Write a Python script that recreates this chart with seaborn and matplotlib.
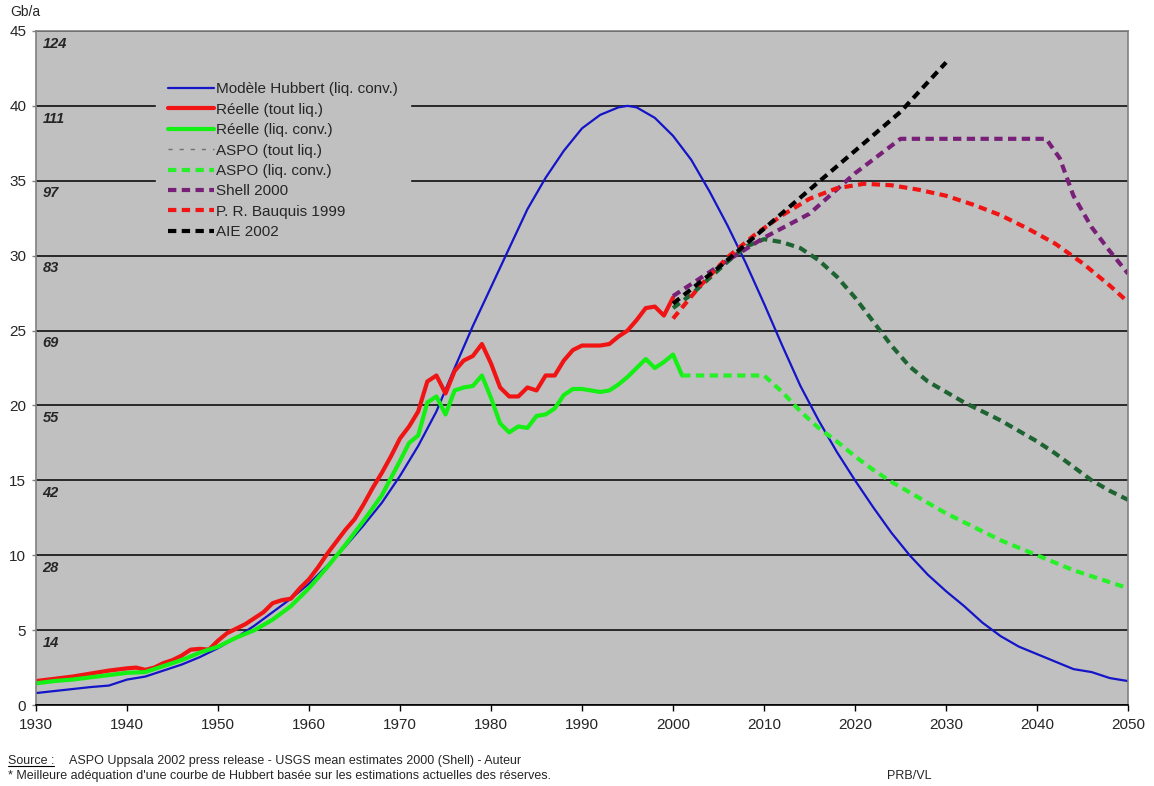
import numpy as np
import pandas as pd
import seaborn as sns
import matplotlib.pyplot as plt
from matplotlib.lines import Line2D

# production mondiale de pétrole, Gb/a
hub_years = [1930, 1933, 1936, 1938, 1940, 1942, 1944, 1946, 1948, 1950, 1952, 1954, 1956, 1958,
             1960, 1962, 1964, 1966, 1968, 1970, 1972, 1974, 1976, 1978, 1980, 1982, 1984, 1986,
             1988, 1990, 1992, 1994, 1995, 1996, 1998, 2000, 2002, 2004, 2006, 2008, 2010, 2012,
             2014, 2016, 2018, 2020, 2022, 2024, 2026, 2028, 2030, 2032, 2034, 2036, 2038, 2040,
             2042, 2044, 2046, 2048, 2050]
hub_vals = [0.8, 1.0, 1.2, 1.3, 1.7, 1.9, 2.3, 2.7, 3.2, 3.8, 4.5, 5.3, 6.2, 7.1,
            8.1, 9.3, 10.6, 12.0, 13.5, 15.3, 17.3, 19.6, 22.5, 25.3, 27.9, 30.5, 33.1, 35.2,
            37.0, 38.5, 39.4, 39.9, 40.0, 39.9, 39.2, 38.0, 36.4, 34.3, 32.0, 29.5, 26.8, 24.0,
            21.3, 19.0, 16.9, 15.0, 13.2, 11.5, 10.0, 8.7, 7.6, 6.6, 5.5, 4.6, 3.9, 3.4,
            2.9, 2.4, 2.2, 1.8, 1.6]

real_all_years = [1930, 1932, 1934, 1936, 1938, 1940, 1941, 1942, 1943, 1944, 1945, 1946, 1947, 1948,
                  1949, 1950, 1951, 1952, 1953, 1954, 1955, 1956, 1957, 1958, 1959, 1960, 1961, 1962,
                  1963, 1964, 1965, 1966, 1967, 1968, 1969, 1970, 1971, 1972, 1973, 1974, 1975, 1976,
                  1977, 1978, 1979, 1980, 1981, 1982, 1983, 1984, 1985, 1986, 1987, 1988, 1989, 1990,
                  1991, 1992, 1993, 1994, 1995, 1996, 1997, 1998, 1999, 2000]
real_all_vals = [1.6, 1.75, 1.9, 2.1, 2.3, 2.45, 2.5, 2.35, 2.5, 2.8, 3.0, 3.3, 3.7, 3.75,
                 3.7, 4.3, 4.8, 5.1, 5.4, 5.8, 6.2, 6.8, 7.0, 7.1, 7.8, 8.4, 9.2, 10.1,
                 10.9, 11.7, 12.4, 13.4, 14.5, 15.5, 16.6, 17.8, 18.6, 19.6, 21.6, 22.0, 20.8, 22.3,
                 23.0, 23.3, 24.1, 22.8, 21.2, 20.6, 20.6, 21.2, 21.0, 22.0, 22.0, 23.0, 23.7, 24.0,
                 24.0, 24.0, 24.1, 24.6, 25.0, 25.7, 26.5, 26.6, 26.0, 27.2]

real_conv_years = [1930, 1932, 1934, 1936, 1938, 1940, 1942, 1944, 1946, 1948, 1950, 1952, 1954, 1956,
                   1958, 1960, 1962, 1964, 1966, 1968, 1970, 1971, 1972, 1973, 1974, 1975, 1976, 1977,
                   1978, 1979, 1980, 1981, 1982, 1983, 1984, 1985, 1986, 1987, 1988, 1989, 1990, 1991,
                   1992, 1993, 1994, 1995, 1996, 1997, 1998, 1999, 2000, 2001]
real_conv_vals = [1.45, 1.6, 1.7, 1.85, 2.0, 2.15, 2.2, 2.6, 3.0, 3.5, 3.9, 4.5, 5.0, 5.7,
                  6.6, 7.8, 9.2, 10.7, 12.3, 14.0, 16.3, 17.5, 18.0, 20.2, 20.6, 19.4, 21.0, 21.2,
                  21.3, 22.0, 20.5, 18.8, 18.2, 18.6, 18.5, 19.3, 19.4, 19.8, 20.7, 21.1, 21.1, 21.0,
                  20.9, 21.0, 21.4, 21.9, 22.5, 23.1, 22.5, 22.9, 23.4, 22.0]

aspo_all_years = [2000, 2002, 2004, 2006, 2008, 2010, 2012, 2014, 2016, 2018, 2020, 2022, 2024,
                  2026, 2028, 2030, 2032, 2034, 2036, 2038, 2040, 2042, 2044, 2046, 2048, 2050]
aspo_all_vals = [26.5, 27.4, 28.5, 29.6, 30.6, 31.1, 30.9, 30.5, 29.7, 28.6, 27.2, 25.6, 24.0,
                 22.6, 21.6, 20.9, 20.2, 19.6, 19.0, 18.3, 17.6, 16.8, 15.9, 15.0, 14.3, 13.7]

aspo_conv_years = [2001, 2005, 2010, 2012, 2014, 2016, 2018, 2020, 2022, 2024, 2026, 2028, 2030,
                   2032, 2034, 2036, 2038, 2040, 2042, 2044, 2046, 2048, 2050]
aspo_conv_vals = [22.0, 22.0, 22.0, 20.9, 19.6, 18.5, 17.6, 16.6, 15.7, 14.9, 14.2, 13.5, 12.8,
                  12.2, 11.6, 11.0, 10.5, 10.0, 9.5, 9.0, 8.6, 8.2, 7.8]

shell_years = [2000, 2005, 2010, 2015, 2020, 2025, 2041, 2042.5, 2044, 2046, 2048, 2050]
shell_vals = [27.3, 29.3, 31.2, 32.8, 35.5, 37.8, 37.8, 36.5, 34.0, 31.9, 30.3, 28.8]

bauquis_years = [2000, 2003, 2006, 2009, 2012, 2015, 2018, 2021, 2024, 2027, 2030, 2033, 2036,
                 2039, 2042, 2045, 2048, 2050]
bauquis_vals = [25.8, 28.0, 29.9, 31.4, 32.7, 33.8, 34.5, 34.8, 34.7, 34.4, 34.0, 33.4, 32.7,
                31.8, 30.8, 29.5, 28.0, 26.9]

aie_years = [2000, 2005, 2010, 2015, 2020, 2025, 2030]
aie_vals = [26.8, 29.2, 31.8, 34.4, 37.0, 39.6, 42.9]

# graduation secondaire (en italique) sous chaque ligne
grid_levels = [45, 40, 35, 30, 25, 20, 15, 10, 5]
grid_labels = ["124", "111", "97", "83", "69", "55", "42", "28", "14"]

series = [
    ("Modèle Hubbert (liq. conv.)", hub_years, hub_vals, "#1414C8", 1.6, "-"),
    ("Réelle (tout liq.)", real_all_years, real_all_vals, "#F01414", 3.0, "-"),
    ("Réelle (liq. conv.)", real_conv_years, real_conv_vals, "#14F014", 3.0, "-"),
    ("ASPO (tout liq.)", aspo_all_years, aspo_all_vals, "#1E6432", 3.0, (0, (2, 1.3))),
    ("ASPO (liq. conv.)", aspo_conv_years, aspo_conv_vals, "#28F028", 3.0, (0, (2, 1.3))),
    ("Shell 2000", shell_years, shell_vals, "#782078", 3.0, (0, (2, 1.3))),
    ("P. R. Bauquis 1999", bauquis_years, bauquis_vals, "#F01414", 3.0, (0, (2, 1.3))),
    ("AIE 2002", aie_years, aie_vals, "#000000", 3.0, (0, (2, 1.3))),
]

sns.set_style("white")
plt.rcParams["font.family"] = ["Liberation Sans", "DejaVu Sans"]

fig = plt.figure(figsize=(11.54, 7.86), dpi=100)
ax = fig.add_axes([0.0312, 0.103, 0.9463, 0.8576])
ax.set_facecolor("#C0C0C0")

for name, xs, ys, col, lw, ls in series:
    df = pd.DataFrame({"annee": xs, "prod": ys})
    sns.lineplot(data=df, x="annee", y="prod", ax=ax, color=col, lw=lw,
                 linestyle=ls, label=name, sort=False)

ax.set_xlim(1930, 2050)
ax.set_ylim(0, 45)
ax.set_xticks(np.arange(1930, 2051, 10))
ax.set_yticks(np.arange(0, 46, 5))
ax.set_xlabel("")
ax.set_ylabel("")
ax.set_axisbelow(True)
ax.yaxis.grid(True, color="black", lw=1.1)
ax.xaxis.grid(False)
ax.tick_params(axis="x", direction="out", length=4, width=1, color="black",
               labelsize=11, pad=5, bottom=True)
ax.tick_params(axis="y", direction="out", length=3, width=1, color="#808080",
               labelsize=11, pad=4, left=True)
for side in ["left", "top", "right"]:
    ax.spines[side].set_color("#808080")
    ax.spines[side].set_linewidth(1.2)
ax.spines["bottom"].set_color("black")
ax.spines["bottom"].set_linewidth(1.2)

for lev, lab in zip(grid_levels, grid_labels):
    ax.text(0.006, lev - 0.85, lab, transform=ax.get_yaxis_transform(),
            fontsize=10.5, fontweight="bold", style="italic", va="center", ha="left")

handles, labels = ax.get_legend_handles_labels()
handles[3] = Line2D([], [], color="#707070", lw=1.0, linestyle=(0, (3, 5)))
leg = ax.legend(handles, labels, loc="upper left", bbox_to_anchor=(0.11, 0.942),
                fontsize=11, frameon=True, facecolor="#C0C0C0", edgecolor="#C0C0C0",
                framealpha=1, fancybox=False, handlelength=3.0, handletextpad=0.1,
                labelspacing=0.42, borderpad=0.8, borderaxespad=0)

fig.text(0.0087, 1 - 12 / 786, "Gb/a", fontsize=10, va="center", ha="left")

src = fig.text(0.007, 1 - 761 / 786, "Source :", fontsize=9, va="center", ha="left")
fig.text(0.06, 1 - 761 / 786,
         "ASPO Uppsala 2002 press release - USGS mean estimates 2000 (Shell) - Auteur",
         fontsize=9, va="center", ha="left")
fig.text(0.007, 1 - 776 / 786,
         "* Meilleure adéquation d'une courbe de Hubbert basée sur les estimations actuelles des réserves.",
         fontsize=9, va="center", ha="left")
fig.text(0.769, 1 - 776 / 786, "PRB/VL", fontsize=9, va="center", ha="left")

# souligner "Source :"
fig.canvas.draw()
bb = src.get_window_extent(fig.canvas.get_renderer()).transformed(fig.transFigure.inverted())
fig.add_artist(Line2D([bb.x0, bb.x1], [bb.y0 + 0.001, bb.y0 + 0.001],
                      transform=fig.transFigure, color="black", lw=0.8))

fig.savefig("out.png", dpi=100, facecolor="white")
